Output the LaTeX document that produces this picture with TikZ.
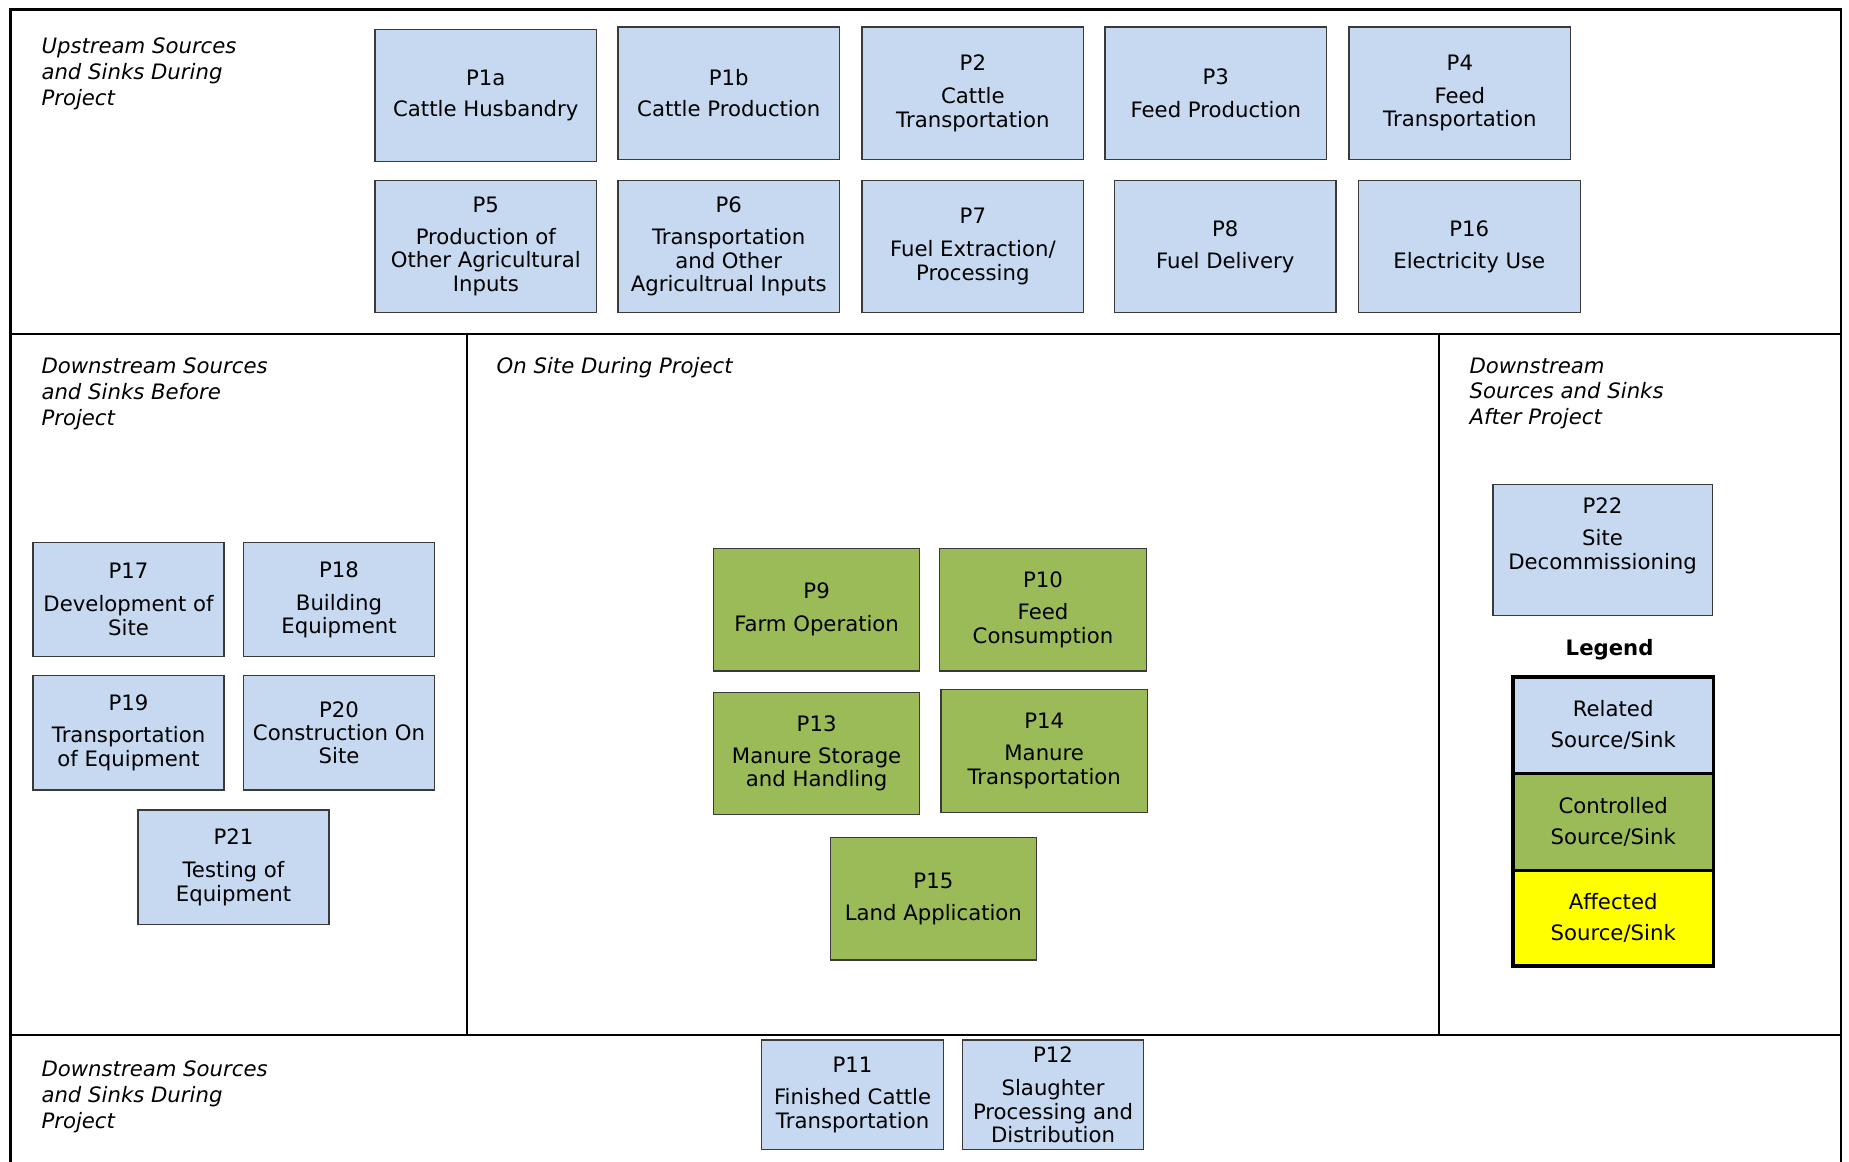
\documentclass[tikz,border=0pt]{standalone}
\usepackage{fontspec}
\setmainfont{DejaVu Sans}
\definecolor{relblue}{HTML}{C6D9F1}
\definecolor{ctrlgreen}{HTML}{9BBB59}
\definecolor{affyellow}{HTML}{FFFF00}
\definecolor{boxline}{HTML}{3A3A3A}
\tikzset{
  box/.style={draw=boxline, line width=1.1pt, fill=relblue, align=center, inner sep=0pt,
    font=\fontsize{18}{20}\selectfont, execute at begin node={\rule{0pt}{17.5pt}}},
  upbox/.style={box, minimum width=188pt, minimum height=112pt},
  leftbox/.style={box, minimum width=162pt, minimum height=97pt},
  greenbox/.style={box, fill=ctrlgreen, minimum width=175pt, minimum height=104pt},
  botbox/.style={box, minimum width=154pt, minimum height=93pt},
  decbox/.style={box, minimum width=186pt, minimum height=111pt},
  legcell/.style={draw=black, line width=3pt, align=center, inner sep=0pt,
    minimum width=170pt, font=\fontsize{18}{26}\selectfont},
  seclabel/.style={anchor=north west, align=left, inner sep=0pt,
    font=\fontsize{18}{22}\selectfont\itshape},
  outerline/.style={line width=2pt, black},
  innerline/.style={line width=1.6pt, black}
}
\begin{document}
\begin{tikzpicture}[x=1pt,y=-1pt]
\useasboundingbox (0,0) rectangle (1568,985.4);
\fill[white] (0,0) rectangle (1568,985.4);
% section frame
\coordinate (tl) at (9,8);
\coordinate (tr) at (1561,8);
\coordinate (bl) at (9,990);
\coordinate (br) at (1561,990);
\coordinate (h1l) at (9,283);
\coordinate (h1r) at (1561,283);
\coordinate (h2l) at (9,878);
\coordinate (h2r) at (1561,878);
\coordinate (v1t) at (396,283);
\coordinate (v1b) at (396,878);
\coordinate (v2t) at (1220,283);
\coordinate (v2b) at (1220,878);
\draw[outerline] (bl) -- (tl) -- (tr) -- (br);
\draw[outerline] (h1l) -- (h1r);
\draw[innerline] (h2l) -- (h2r);
\draw[innerline] (v1t) -- (v1b);
\draw[innerline] (v2t) -- (v2b);

% section labels
\node[seclabel] (lup) at (35,32) {Upstream Sources\\and Sinks During\\Project};
\node[seclabel] (lbefore) at (35,303) {Downstream Sources\\and Sinks Before\\Project};
\node[seclabel] (lonsite) at (421,303) {On Site During Project};
\node[seclabel] (lafter) at (1246,303) {Downstream\\Sources and Sinks\\After Project};
\node[seclabel] (lduring) at (35,899) {Downstream Sources\\and Sinks During\\Project};

% upstream boxes
\node[upbox] (p1a) at (412,81) {P1a\\[7pt]Cattle Husbandry};
\node[upbox] (p1b) at (618,79) {P1b\\[7pt]Cattle Production};
\node[upbox] (p2) at (825,79) {P2\\[8pt]Cattle\\Transportation};
\node[upbox] (p3) at (1031,79) {P3\\[8pt]Feed Production};
\node[upbox] (p4) at (1238,79) {P4\\[8pt]Feed\\Transportation};
\node[upbox] (p5) at (412,209) {P5\\[7pt]Production of\\Other Agricultural\\Inputs};
\node[upbox] (p6) at (618,209) {P6\\[7pt]Transportation\\and Other\\Agricultrual Inputs};
\node[upbox] (p7) at (825,209) {P7\\[8pt]Fuel Extraction/\\Processing};
\node[upbox] (p8) at (1039,209) {P8\\[7pt]Fuel Delivery};
\node[upbox] (p16) at (1246,209) {P16\\[7pt]Electricity Use};

% before project
\node[leftbox] (p17) at (109,508.5) {P17\\[8pt]Development of\\Site};
\node[leftbox] (p18) at (287.5,508.5) {P18\\[8pt]Building\\Equipment};
\node[leftbox] (p19) at (109,621.5) {P19\\[7pt]Transportation\\of Equipment};
\node[leftbox] (p20) at (287.5,621.5) {P20\\[-1pt]Construction On\\Site};
\node[leftbox] (p21) at (198,735.5) {P21\\[8pt]Testing of\\Equipment};

% on site
\node[greenbox] (p9) at (692.5,517) {P9\\[8pt]Farm Operation};
\node[greenbox] (p10) at (884.5,517) {P10\\[7pt]Feed\\Consumption};
\node[greenbox] (p13) at (692.5,639) {P13\\[7pt]Manure Storage\\and Handling};
\node[greenbox] (p14) at (885.5,637) {P14\\[7pt]Manure\\Transportation};
\node[greenbox] (p15) at (791.5,762) {P15\\[7pt]Land Application};

% after project
\node[decbox] (p22) at (1359,466.5) {P22\\[7pt]Site\\Decommissioning\\[8pt]\mbox{}};
\node[font=\fontsize{18}{20}\selectfont\bfseries, inner sep=0pt] (leg) at (1365,551) {Legend};
\node[legcell, fill=relblue, minimum height=82pt] (lrel) at (1368,615) {Related\\Source/Sink};
\node[legcell, fill=ctrlgreen, minimum height=82pt] (lctrl) at (1368,697) {Controlled\\Source/Sink};
\node[legcell, fill=affyellow, minimum height=81pt] (laff) at (1368,778.5) {Affected\\Source/Sink};

% downstream during
\node[botbox] (p11) at (723,928.5) {P11\\[7pt]Finished Cattle\\Transportation};
\node[botbox] (p12) at (893,928.5) {P12\\[8pt]Slaughter\\Processing and\\Distribution};
\end{tikzpicture}
\end{document}
